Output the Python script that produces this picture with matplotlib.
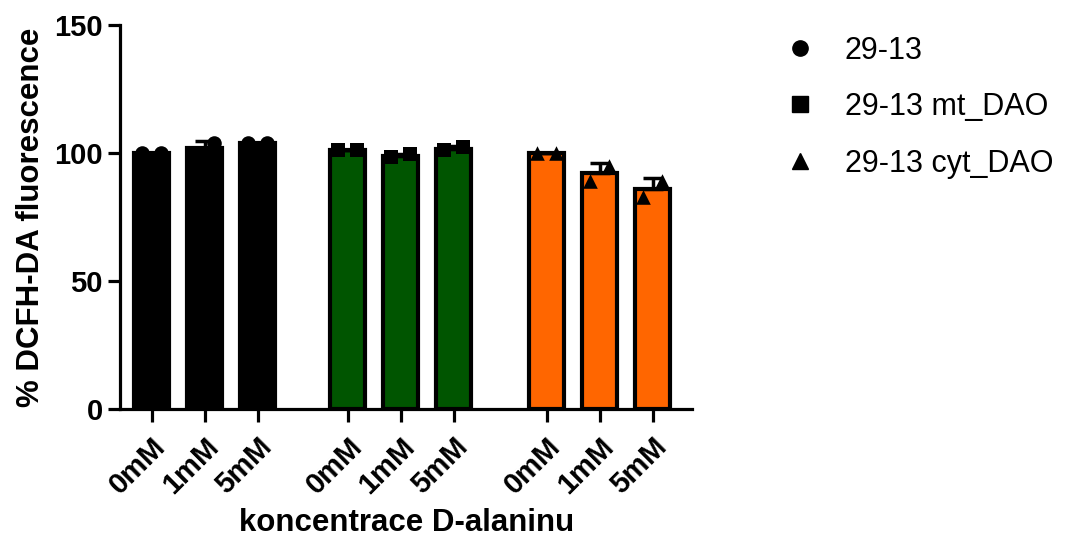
import numpy as np
import matplotlib
matplotlib.use("Agg")
import matplotlib.pyplot as plt
from matplotlib.lines import Line2D

plt.rcParams["font.family"] = ["Liberation Sans", "DejaVu Sans"]

# ---- data ------------------------------------------------------------------
concs = ["0mM", "1mM", "5mM"]
strains = ["29-13", "29-13 mt_DAO", "29-13 cyt_DAO"]
# two replicates per bar (% DCFH-DA fluorescence)
rep_wt = [[100, 100], [100, 104], [104, 104]]
rep_mt = [[101, 101], [98.5, 99.5], [101, 102.5]]
rep_cyt = [[100, 100], [89, 95], [83, 89]]

colors = ["#000000", "#005500", "#FF6600"]
markers = ["o", "s", "^"]

# ---- layout ----------------------------------------------------------------
fig = plt.figure(figsize=(10.66, 5.38), dpi=100)
ax = fig.add_axes([0.1126, 0.2398, 0.537, 0.7137])

group_off = [0.0, 3.7, 7.45]
width = 0.66
xticks, xlabels = [], []
for g, reps in enumerate([rep_wt, rep_mt, rep_cyt]):
    reps = np.array(reps, dtype=float)
    x = group_off[g] + np.arange(len(concs))
    means = reps.mean(axis=1)
    sds = reps.std(axis=1, ddof=1)
    ax.bar(x, means, width, color=colors[g], edgecolor="black", linewidth=3,
           zorder=2)
    ax.errorbar(x, means, yerr=[np.zeros_like(sds), sds], fmt="none",
                ecolor="black", elinewidth=2.5, capsize=7, capthick=2.5,
                zorder=3)
    for i in range(reps.shape[1]):
        dx = -0.18 if i == 0 else 0.18
        ax.scatter(x + dx, reps[:, i], marker=markers[g], s=110,
                   color="black", zorder=4, linewidths=0)
    xticks += list(x)
    xlabels += concs

ax.set_xlim(-0.6, group_off[-1] + 2.75)
ax.set_ylim(0, 150)
ax.set_yticks([0, 50, 100, 150])
ax.set_xticks(xticks)
ax.set_xticklabels(xlabels, rotation=45, ha="right", rotation_mode="anchor")

for s in ["top", "right"]:
    ax.spines[s].set_visible(False)
for s in ["left", "bottom"]:
    ax.spines[s].set_linewidth(2.3)
ax.tick_params(axis="both", width=2.3, length=9, labelsize=21)
ax.tick_params(axis="x", pad=8)
for lab in ax.get_xticklabels() + ax.get_yticklabels():
    lab.set_fontweight("bold")

ax.set_ylabel("% DCFH-DA fluorescence", fontsize=22.5, fontweight="bold",
              labelpad=6)
ax.set_xlabel("koncentrace D-alaninu", fontsize=22.5, fontweight="bold",
              labelpad=6)

handles = [Line2D([], [], marker=m, color="black", linestyle="none",
                  markersize=11) for m in markers]
fig.legend(handles, strains, loc="upper left", bbox_to_anchor=(0.71, 0.985),
           frameon=False, fontsize=22, handlelength=1.0, handletextpad=0.97,
           labelspacing=0.87)

fig.savefig("out.png", dpi=100)
